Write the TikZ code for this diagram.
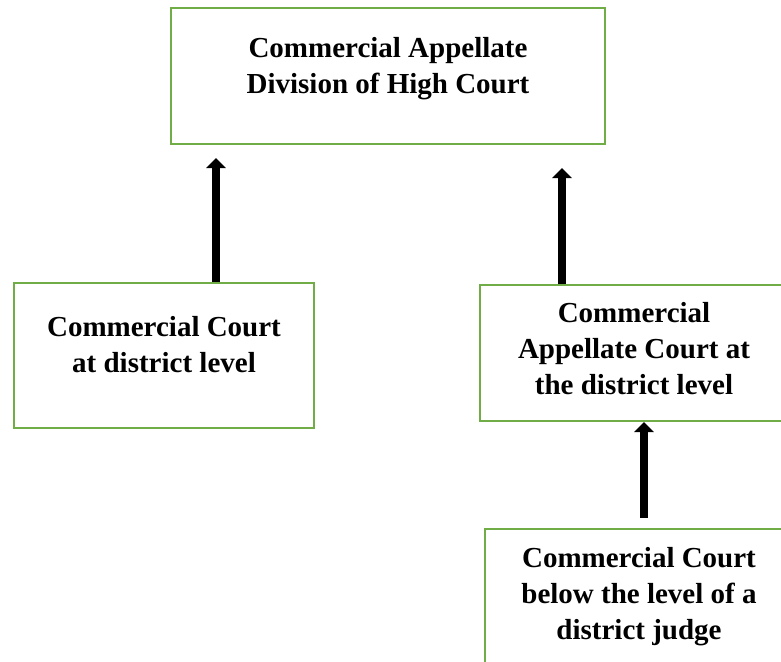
\documentclass[tikz,border=0pt]{standalone}
\usepackage{fontspec}
\setmainfont{Liberation Serif}
\usetikzlibrary{arrows.meta}
\definecolor{boxgreen}{HTML}{70AD47}
\tikzset{
  courtbox/.style={draw=boxgreen, line width=2pt, fill=white, inner sep=0pt},
  courtlbl/.style={font=\fontsize{29}{36}\selectfont\bfseries, align=center, inner sep=0pt},
  uparrow/.style={line width=8pt, -{Triangle[width=19pt,length=10pt]}}
}
\begin{document}
\begin{tikzpicture}[x=1pt,y=-1pt]
\useasboundingbox (0,0) rectangle (781,661);
\clip (0,0) rectangle (781,661);
% boxes
\node[courtbox, minimum width=434pt, minimum height=136pt] (top) at (388,76) {};
\node[courtbox, minimum width=300pt, minimum height=145pt] (left) at (164,355.5) {};
\node[courtbox, minimum width=310pt, minimum height=136pt] (right) at (635,353) {};
\node[courtbox, minimum width=305pt, minimum height=150pt] (bottom) at (637.5,604) {};
% labels
\node[courtlbl] (toplbl) at (388,68.5) {Commercial Appellate\\Division of High Court};
\node[courtlbl] (leftlbl) at (164,344.5) {Commercial Court\\at district level};
\node[courtlbl] (rightlbl) at (634,349) {Commercial\\Appellate Court at\\the district level};
\node[courtlbl] (bottomlbl) at (639,597) {Commercial Court\\below the level of a\\district judge};
% arrow ends
\coordinate (tipL) at (216,158);
\coordinate (tipR) at (562,168);
\coordinate (tipB) at (644,422);
\coordinate (startB) at (644,518);
\draw[uparrow] (left.north -| tipL) -- (tipL);
\draw[uparrow] (right.north -| tipR) -- (tipR);
\draw[uparrow] (startB) -- (tipB);
\end{tikzpicture}
\end{document}
